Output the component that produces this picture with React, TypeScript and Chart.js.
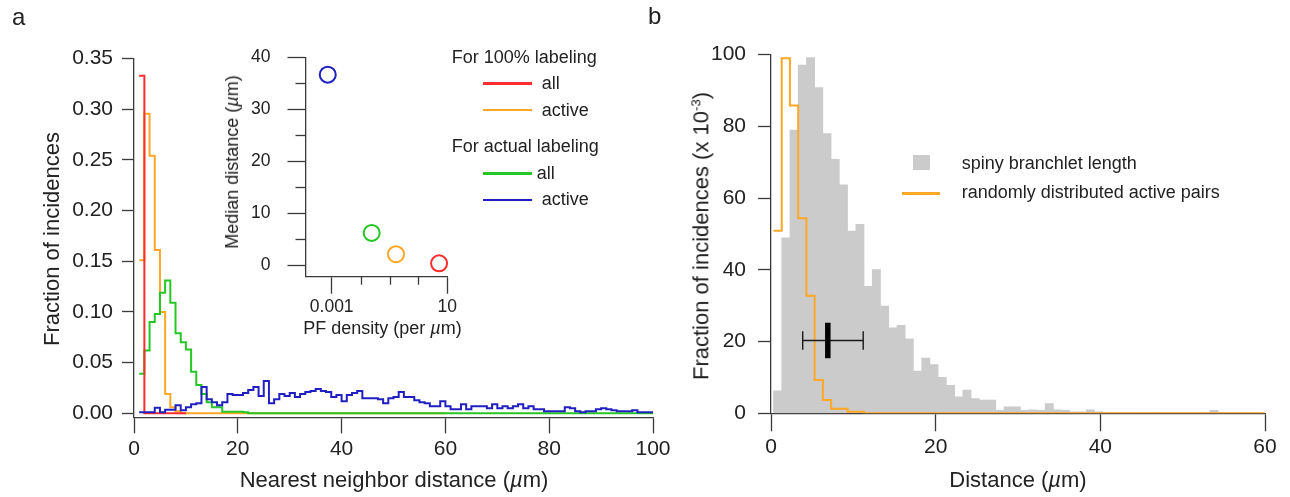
import React, { useEffect, useRef } from 'react';
import { Chart, registerables } from 'chart.js';

Chart.register(...registerables);

// ---------------- Panel a: nearest-neighbour distance histograms (1 µm bins) ----------------
const nnBinStart = 1;
const nnBinWidth = 1;
const nnTicksX = [0, 20, 40, 60, 80, 100];
const nnTicksY = [0, 0.05, 0.1, 0.15, 0.2, 0.25, 0.3, 0.35];

// For 100% labeling – all
const all100 = [0.333, 0, 0, 0, 0, 0, 0, 0, 0];
// For 100% labeling – active
const active100 = [
  0.151, 0.2955, 0.254, 0.161, 0.1, 0.019, 0.006, 0.002, 0, 0,
  0, 0, 0, 0, 0, 0, 0, 0, 0, 0,
  0, 0, 0, 0, 0, 0, 0, 0, 0, 0,
  0, 0, 0, 0, 0, 0, 0, 0, 0, 0,
  0, 0, 0, 0, 0, 0, 0, 0, 0, 0,
  0, 0, 0, 0, 0, 0, 0, 0, 0,
];
// For actual labeling – all
const allActual = [
  0.039, 0.062, 0.09, 0.098, 0.119, 0.131, 0.109, 0.079, 0.07, 0.063,
  0.041, 0.028, 0.019, 0.011, 0.006, 0.006, 0.0015, 0.0015, 0.0015, 0.0015,
  0.001, 0, 0, 0, 0, 0, 0, 0, 0, 0,
  0, 0, 0, 0, 0, 0, 0, 0, 0, 0,
  0, 0, 0, 0, 0, 0, 0, 0, 0, 0,
  0, 0, 0, 0, 0, 0, 0, 0, 0, 0,
  0, 0, 0, 0, 0, 0, 0, 0, 0, 0,
  0, 0, 0, 0, 0, 0, 0, 0, 0, 0,
  0, 0, 0, 0, 0, 0, 0, 0, 0, 0,
  0, 0, 0, 0, 0, 0, 0, 0, 0,
];
// For actual labeling – active
const activeActual = [
  0.001, 0.001, 0.001, 0.0055, 0.001, 0.0035, 0.0035, 0.008, 0.003, 0.006,
  0.009, 0.01, 0.026, 0.014, 0.011, 0.008, 0.011, 0.019, 0.018, 0.018,
  0.02, 0.023, 0.026, 0.017, 0.032, 0.01, 0.014, 0.019, 0.017, 0.02,
  0.016, 0.019, 0.021, 0.022, 0.024, 0.022, 0.021, 0.016, 0.018, 0.012,
  0.018, 0.02, 0.022, 0.015, 0.015, 0.015, 0.014, 0.01, 0.015, 0.016,
  0.021, 0.016, 0.016, 0.013, 0.011, 0.01, 0.007, 0.007, 0.012, 0.007,
  0.004, 0.004, 0.009, 0.004, 0.007, 0.007, 0.007, 0.005, 0.009, 0.005,
  0.007, 0.005, 0.007, 0.009, 0.005, 0.007, 0.004, 0.004, 0.002, 0.002,
  0.002, 0.002, 0.006, 0.005, 0.002, 0.001, 0.002, 0.002, 0.004, 0.005,
  0.004, 0.003, 0.002, 0.002, 0.002, 0.003, 0.001, 0.001, 0.001,
];

// ---------------- Inset: median distance vs PF density ----------------
const insetDensityTicks = [0.001, 10];
const insetDensityMinorTicks = [0.01, 0.1, 1];
const insetMedianTicks = [0, 10, 20, 30, 40];
const insetMedianMinorTicks = [5, 15, 25, 35];
const insetGroups = ['actual active', 'actual all', '100% active', '100% all'];
const insetDensity = [0.00073, 0.0242, 0.168, 5.2];
const insetMedian = [36.7, 6.2, 2.1, 0.33];

// ---------------- Panel b: distance histograms (×10^-3, 1 µm bins) ----------------
const distBinStart = 0.3;
const distBinWidth = 1;
const distTicksX = [0, 20, 40, 60];
const distTicksY = [0, 20, 40, 60, 80, 100];
const branchletLength = [
  6.3, 48.9, 79.0, 97.1, 99.2, 90.8, 78.0, 70.8, 63.7, 50.8,
  52.7, 35.4, 40.1, 29.9, 23.8, 24.5, 20.8, 11.8, 15.4, 13.6,
  10.0, 7.8, 4.6, 6.5, 4.1, 3.7, 3.7, 0.8, 1.8, 1.8,
  0.8, 1.0, 0.8, 2.7, 1.0, 0.8, 0.4, 0.4, 1.0, 0.4,
  0.3, 0.3, 0.3, 0.3, 0.2, 0.2, 0.3, 0.2, 0.2, 0.2,
  0.2, 0.2, 0.3, 0.8, 0.3, 0.2, 0.2, 0.2, 0.2,
];
const randomActivePairs = [
  50.9, 99.0, 85.8, 54.4, 32.8, 9.3, 3.7, 1.3, 1.3, 0.4,
  0.4, 0, 0, 0, 0, 0, 0, 0, 0, 0,
  0, 0, 0, 0, 0, 0, 0, 0, 0, 0,
  0, 0, 0, 0, 0, 0, 0, 0, 0, 0,
  0, 0, 0, 0, 0, 0, 0, 0, 0, 0,
  0, 0, 0, 0, 0, 0, 0, 0, 0, 0,
];
const branchletMedian = 6.9;
const branchletLow = 3.85;
const branchletHigh = 11.2;
const branchletMarkerY = 20.3;

// ---------------- styles ----------------
const FONT = '"Liberation Sans", Arial, Helvetica, sans-serif';
const TEXT = '#222222';
const AXIS = '#3a3a3a';
const RED = '#ff2d2d';
const ORANGE = '#ffa726';
const GREEN = '#26c626';
const BLUE = '#2020c0';
const GRAY = '#cbcbcb';
const MARKER_HALF = 4.95;
const CAP_HALF = 2.6;

function stepPoints(start: number, width: number, values: number[]) {
  const pts = values.map((v, i) => ({ x: start + i * width, y: v }));
  pts.push({ x: start + values.length * width, y: values[values.length - 1] });
  return pts;
}

type AxisCfg = {
  type?: string;
  min: number;
  max: number;
  ticks: number[];
  tickLen: number;
  pad: number;
  size: number;
  fit: number;
  horizontal: boolean;
  fmt?: (v: number) => string;
};

function makeAxis(c: AxisCfg): any {
  return {
    type: c.type ?? 'linear',
    min: c.min,
    max: c.max,
    offset: false,
    afterBuildTicks: (s: any) => {
      s.ticks = c.ticks.map((v) => ({ value: v }));
    },
    afterFit: (s: any) => {
      if (c.horizontal) s.height = c.fit;
      else s.width = c.fit;
    },
    ticks: {
      autoSkip: false,
      maxRotation: 0,
      minRotation: 0,
      padding: c.pad,
      color: TEXT,
      font: { size: c.size, family: FONT },
      callback: (v: any) => (c.fmt ? c.fmt(Number(v)) : String(v)),
    },
    grid: {
      display: true,
      offset: false,
      drawOnChartArea: false,
      drawTicks: true,
      tickLength: c.tickLen,
      tickColor: AXIS,
      tickWidth: 1.3,
    },
    border: { display: true, color: AXIS, width: 1.3 },
  };
}

const minorTickPlugin = {
  id: 'minorTicks',
  afterDraw(chart: any, _args: any, opts: any) {
    const items = (opts && opts.items) || [];
    const ctx = chart.ctx;
    items.forEach((it: any) => {
      const s = chart.scales[it.scale];
      if (!s) return;
      ctx.save();
      ctx.strokeStyle = opts.color || AXIS;
      ctx.lineWidth = opts.width || 1.3;
      it.values.forEach((v: number) => {
        const p = Math.round(s.getPixelForValue(v)) + 0.5;
        ctx.beginPath();
        if (s.isHorizontal()) {
          ctx.moveTo(p, s.top);
          ctx.lineTo(p, s.top + it.length);
        } else {
          ctx.moveTo(s.right, p);
          ctx.lineTo(s.right - it.length, p);
        }
        ctx.stroke();
      });
      ctx.restore();
    });
  },
};

const baseOptions = {
  responsive: false,
  animation: false as const,
  events: [] as any[],
  plugins: { legend: { display: false }, tooltip: { enabled: false } },
};

function lineSet(label: string, data: any[], color: string, order: number, extra: any = {}) {
  return {
    type: 'line' as const,
    label,
    data,
    borderColor: color,
    backgroundColor: color,
    borderWidth: 2,
    pointRadius: 0,
    fill: false,
    tension: 0,
    order,
    ...extra,
  };
}

type TProps = {
  x: number;
  y: number;
  size: number;
  rot?: boolean;
  left?: boolean;
  children: React.ReactNode;
};
const T = ({ x, y, size, rot, left, children }: TProps) => (
  <div
    style={{
      position: 'absolute',
      left: x,
      top: y,
      transform: left ? 'translate(0,-50%)' : `translate(-50%,-50%)${rot ? ' rotate(-90deg)' : ''}`,
      fontSize: size,
      lineHeight: 1,
      whiteSpace: 'nowrap',
      color: TEXT,
      fontFamily: FONT,
    }}
  >
    {children}
  </div>
);

const Swatch = ({ x, y, w, color }: { x: number; y: number; w: number; color: string }) => (
  <div style={{ position: 'absolute', left: x, top: y - 1.25, width: w, height: 2.5, background: color }} />
);

export default function App() {
  const aRef = useRef<HTMLCanvasElement>(null);
  const iRef = useRef<HTMLCanvasElement>(null);
  const bRef = useRef<HTMLCanvasElement>(null);

  useEffect(() => {
    Chart.defaults.font.family = FONT;
    Chart.defaults.color = TEXT;
    const charts: Chart[] = [];

    // Panel a
    charts.push(
      new Chart(aRef.current as HTMLCanvasElement, {
        type: 'line',
        data: {
          datasets: [
            lineSet('actual labeling – active', stepPoints(nnBinStart, nnBinWidth, activeActual), BLUE, 0, { stepped: true }),
            lineSet('100% labeling – all', stepPoints(nnBinStart, nnBinWidth, all100), RED, 1, { stepped: true }),
            lineSet('actual labeling – all', stepPoints(nnBinStart, nnBinWidth, allActual), GREEN, 2, { stepped: true }),
            lineSet('100% labeling – active', stepPoints(nnBinStart, nnBinWidth, active100), ORANGE, 3, { stepped: true }),
          ],
        },
        options: {
          ...baseOptions,
          layout: { padding: { left: 0, top: 58.4, right: 27, bottom: 0 } },
          scales: {
            x: makeAxis({ min: 0, max: 100, ticks: nnTicksX, tickLen: 16, pad: 3, size: 21, fit: 470 - 417.4, horizontal: true }),
            y: makeAxis({
              min: -0.004,
              max: 0.35,
              ticks: nnTicksY,
              tickLen: 12,
              pad: 9,
              size: 21,
              fit: 134,
              horizontal: false,
              fmt: (v) => v.toFixed(2),
            }),
          },
        } as any,
      })
    );

    // Inset
    charts.push(
      new Chart(iRef.current as HTMLCanvasElement, {
        type: 'scatter',
        data: {
          datasets: [
            {
              label: 'median',
              data: insetDensity.map((x, i) => ({ x, y: insetMedian[i], g: insetGroups[i] })),
              pointBorderColor: [BLUE, GREEN, ORANGE, RED],
              pointBackgroundColor: 'rgba(0,0,0,0)',
              pointRadius: 8,
              pointBorderWidth: 2,
              showLine: false,
              clip: false,
            } as any,
          ],
        },
        options: {
          ...baseOptions,
          layout: { padding: { left: 0, top: 26, right: 22.7, bottom: 0 } },
          plugins: {
            ...baseOptions.plugins,
            minorTicks: {
              color: AXIS,
              width: 1.3,
              items: [
                { scale: 'x', values: insetDensityMinorTicks, length: 8 },
                { scale: 'y', values: insetMedianMinorTicks, length: 10 },
              ],
            },
          },
          scales: {
            x: makeAxis({
              type: 'logarithmic',
              min: 1.24e-4,
              max: 10,
              ticks: insetDensityTicks,
              tickLen: 17,
              pad: 3,
              size: 17.5,
              fit: 300 - 246.7,
              horizontal: true,
            }),
            y: makeAxis({ min: -2.24, max: 40, ticks: insetMedianTicks, tickLen: 18, pad: 17, size: 17.5, fit: 105.5, horizontal: false }),
          },
        } as any,
        plugins: [minorTickPlugin as any],
      })
    );

    // Panel b
    charts.push(
      new Chart(bRef.current as HTMLCanvasElement, {
        type: 'bar',
        data: {
          datasets: [
            lineSet(
              'median marker',
              [
                { x: branchletMedian, y: branchletMarkerY - MARKER_HALF },
                { x: branchletMedian, y: branchletMarkerY + MARKER_HALF },
              ],
              '#000000',
              0,
              { borderWidth: 5.5 }
            ),
            lineSet('range', [
              { x: branchletLow, y: branchletMarkerY },
              { x: branchletHigh, y: branchletMarkerY },
            ], '#1a1a1a', 1, { borderWidth: 1.4 }),
            lineSet('range low cap', [
              { x: branchletLow, y: branchletMarkerY - CAP_HALF },
              { x: branchletLow, y: branchletMarkerY + CAP_HALF },
            ], '#1a1a1a', 2, { borderWidth: 1.4 }),
            lineSet('range high cap', [
              { x: branchletHigh, y: branchletMarkerY - CAP_HALF },
              { x: branchletHigh, y: branchletMarkerY + CAP_HALF },
            ], '#1a1a1a', 3, { borderWidth: 1.4 }),
            lineSet('randomly distributed active pairs', stepPoints(distBinStart, distBinWidth, randomActivePairs), ORANGE, 4, {
              stepped: true,
            }),
            {
              type: 'bar',
              label: 'spiny branchlet length',
              data: branchletLength.map((v, i) => ({ x: distBinStart + (i + 0.5) * distBinWidth, y: v })),
              backgroundColor: GRAY,
              borderWidth: 0,
              barPercentage: 1,
              categoryPercentage: 1,
              order: 5,
            } as any,
          ],
        },
        options: {
          ...baseOptions,
          layout: { padding: { left: 0, top: 54.7, right: 25, bottom: 0 } },
          scales: {
            x: makeAxis({ min: 0, max: 60, ticks: distTicksX, tickLen: 18, pad: 3, size: 21, fit: 470 - 413.3, horizontal: true }),
            y: makeAxis({ min: 0, max: 100, ticks: distTicksY, tickLen: 13, pad: 12, size: 21, fit: 91, horizontal: false }),
          },
        } as any,
      })
    );

    return () => charts.forEach((c) => c.destroy());
  }, []);

  return (
    <div
      style={{
        position: 'absolute',
        left: 0,
        top: 0,
        width: 1290,
        height: 497,
        background: '#ffffff',
        overflow: 'hidden',
        fontFamily: FONT,
      }}
    >
      <canvas ref={aRef} width={680} height={470} style={{ position: 'absolute', left: 0, top: 0, width: 680, height: 470 }} />
      <canvas ref={bRef} width={610} height={470} style={{ position: 'absolute', left: 680, top: 0, width: 610, height: 470 }} />
      <canvas ref={iRef} width={270} height={300} style={{ position: 'absolute', left: 200, top: 30, width: 270, height: 300 }} />

      {/* panel letters */}
      <T x={12} y={17} size={24} left>a</T>
      <T x={648} y={16} size={24} left>b</T>

      {/* panel a titles */}
      <T x={52} y={239} size={22} rot>Fraction of incidences</T>
      <T x={394} y={480} size={22}>
        Nearest neighbor distance (<i>µ</i>m)
      </T>

      {/* inset titles */}
      <T x={231.7} y={162} size={18} rot>
        Median distance (<i>µ</i>m)
      </T>
      <T x={382.5} y={328} size={18}>
        PF density (per <i>µ</i>m)
      </T>

      {/* panel a legend */}
      <T x={451.7} y={57.3} size={18} left>For 100% labeling</T>
      <Swatch x={482.7} y={83.3} w={49} color={RED} />
      <T x={541.7} y={83} size={18} left>all</T>
      <Swatch x={482.7} y={110} w={49} color={ORANGE} />
      <T x={541.7} y={110} size={18} left>active</T>
      <T x={451.7} y={146} size={18} left>For actual labeling</T>
      <Swatch x={482.7} y={173.3} w={49} color={GREEN} />
      <T x={536.7} y={173} size={18} left>all</T>
      <Swatch x={482.7} y={200} w={49} color={BLUE} />
      <T x={541.7} y={199} size={18} left>active</T>

      {/* panel b titles */}
      <T x={701} y={236} size={22} rot>
        Fraction of incidences (x 10<sup style={{ fontSize: '0.6em' }}>-3</sup>)
      </T>
      <T x={1018} y={480} size={22}>
        Distance (<i>µ</i>m)
      </T>

      {/* panel b legend */}
      <div style={{ position: 'absolute', left: 913.3, top: 155, width: 16.5, height: 15, background: GRAY }} />
      <T x={961.7} y={162.7} size={18} left>spiny branchlet length</T>
      <Swatch x={901.7} y={193.3} w={38} color={ORANGE} />
      <T x={961.7} y={192} size={18} left>randomly distributed active pairs</T>
    </div>
  );
}
